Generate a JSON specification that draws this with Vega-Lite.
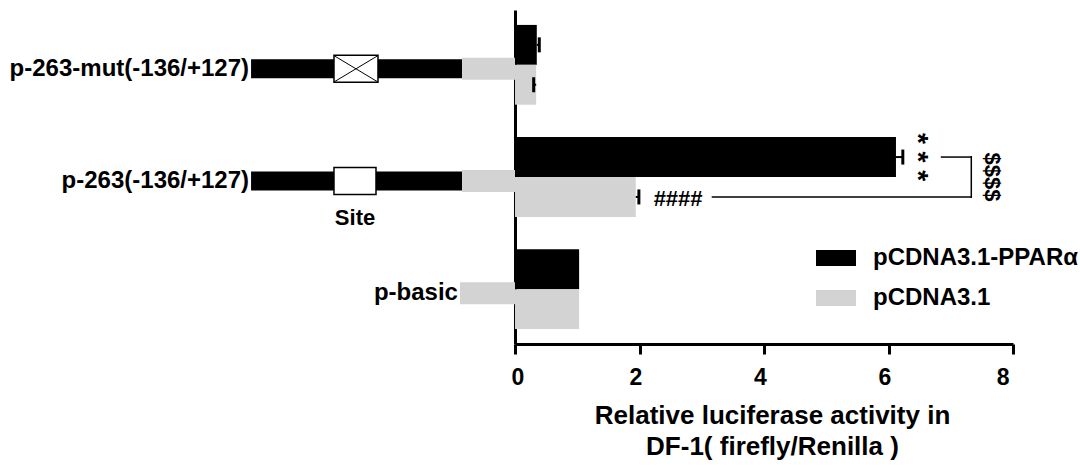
{
  "$schema": "https://vega.github.io/schema/vega-lite/v6.json",
  "width": 498,
  "height": 334,
  "autosize": {"type": "none"},
  "padding": {"left": 515, "top": 10, "right": 67, "bottom": 124},
  "config": {"font": "Liberation Sans", "view": {"stroke": null}},
  "datasets": {
    "bars": [
      {"construct": "mut", "series": "pCDNA3.1-PPARα", "value": 0.35, "cap": 0.39},
      {"construct": "mut", "series": "pCDNA3.1", "value": 0.34, "cap": 0.3},
      {"construct": "wt", "series": "pCDNA3.1-PPARα", "value": 6.12, "cap": 6.23},
      {"construct": "wt", "series": "pCDNA3.1", "value": 1.94, "cap": 1.99},
      {"construct": "basic", "series": "pCDNA3.1-PPARα", "value": 1.03},
      {"construct": "basic", "series": "pCDNA3.1", "value": 1.03}
    ],
    "segs": [
      {"construct": "mut", "part": "core", "start": -4.24, "end": -0.851},
      {"construct": "mut", "part": "basic", "start": -0.851, "end": 0},
      {"construct": "wt", "part": "core", "start": -4.24, "end": -0.851},
      {"construct": "wt", "part": "basic", "start": -0.851, "end": 0},
      {"construct": "basic", "part": "basic", "start": -0.884, "end": 0},
      {"construct": "mut", "part": "site", "start": -2.908, "end": -2.201, "mutated": true},
      {"construct": "wt", "part": "site", "start": -2.908, "end": -2.233, "mutated": false}
    ],
    "labels": [
      {"construct": "mut", "x": -4.24, "label": "p-263-mut(-136/+127)"},
      {"construct": "wt", "x": -4.24, "label": "p-263(-136/+127)"},
      {"construct": "basic", "x": -0.884, "label": "p-basic"}
    ],
    "notes": [
      {"construct": "wt", "series": "pCDNA3.1-PPARα", "x": 6.45, "label": "* * *"},
      {"construct": "wt", "series": "pCDNA3.1", "x": 2.62, "label": "####"},
      {"construct": "wt", "x": 7.66, "label": "$$$$"},
      {"construct": "wt", "x": -2.57, "label": "Site"}
    ],
    "brackets": [
      {"construct": "wt", "series": "pCDNA3.1-PPARα", "from": 6.84, "to": 7.33},
      {"construct": "wt", "series": "pCDNA3.1", "from": 3.16, "to": 7.33}
    ]
  },
  "encoding": {
    "y": {
      "field": "construct",
      "type": "nominal",
      "sort": ["mut", "wt", "basic"],
      "scale": {"paddingInner": 0.289, "paddingOuter": 0.133},
      "axis": {"labels": false, "ticks": false, "title": null, "domainColor": "#000000", "domainWidth": 3, "grid": false}
    }
  },
  "layer": [
    {
      "data": {"name": "segs"},
      "transform": [{"filter": "datum.part === 'core'"}],
      "mark": {"type": "bar", "height": 19, "color": "#000000", "yOffset": 4},
      "encoding": {
        "x": {"field": "start", "type": "quantitative", "scale": {"domain": [0, 8], "nice": false}},
        "x2": {"field": "end"}
      }
    },
    {
      "data": {"name": "segs"},
      "transform": [{"filter": "datum.part === 'basic'"}],
      "mark": {"type": "bar", "height": 22, "color": "#d3d3d3", "yOffset": 4},
      "encoding": {
        "x": {"field": "start", "type": "quantitative", "scale": {"domain": [0, 8], "nice": false}},
        "x2": {"field": "end"}
      }
    },
    {
      "data": {"name": "segs"},
      "transform": [{"filter": "datum.part === 'site'"}],
      "mark": {"type": "bar", "height": 27, "fill": "#ffffff", "stroke": "#000000", "strokeWidth": 1.5, "yOffset": 4},
      "encoding": {
        "x": {"field": "start", "type": "quantitative", "scale": {"domain": [0, 8], "nice": false}},
        "x2": {"field": "end"}
      }
    },
    {
      "data": {"name": "segs"},
      "transform": [{"filter": "datum.mutated === true"}],
      "mark": {"type": "point", "shape": "M-1,-0.6L1,0.6M1,-0.6L-1,0.6", "size": 1936, "filled": false, "stroke": "#000000", "strokeWidth": 1, "opacity": 1, "yOffset": 4},
      "encoding": {
        "x": {"datum": -2.555, "type": "quantitative", "scale": {"domain": [0, 8], "nice": false}}
      }
    },
    {
      "data": {"name": "labels"},
      "mark": {"type": "text", "align": "right", "baseline": "middle", "dx": -2, "dy": 4, "fontSize": 24, "fontWeight": "bold", "color": "#000000"},
      "encoding": {
        "x": {"field": "x", "type": "quantitative", "scale": {"domain": [0, 8], "nice": false}},
        "text": {"field": "label"}
      }
    },
    {
      "data": {"name": "bars"},
      "mark": {"type": "bar"},
      "encoding": {
        "x": {
          "field": "value",
          "type": "quantitative",
          "scale": {"domain": [0, 8], "nice": false},
          "axis": {
            "values": [0, 2, 4, 6, 8],
            "format": "d",
            "grid": false,
            "domainColor": "#000000",
            "domainWidth": 3,
            "tickColor": "#000000",
            "tickWidth": 3,
            "tickSize": 10,
            "labelFontSize": 23,
            "labelFontWeight": "bold",
            "labelColor": "#000000",
            "labelPadding": 12,
            "labelOffset": -4,
            "title": ["Relative luciferase activity in", "DF-1( firefly/Renilla )"],
            "titleFontSize": 26,
            "titleFontWeight": "bold",
            "titleColor": "#000000",
            "titleLineHeight": 31,
            "titleX": 257,
            "titleY": 58,
            "titleAlign": "center",
            "titleBaseline": "top"
          }
        },
        "yOffset": {"field": "series", "type": "nominal", "sort": ["pCDNA3.1-PPARα", "pCDNA3.1"], "scale": {"paddingInner": 0, "paddingOuter": 0}},
        "color": {
          "field": "series",
          "type": "nominal",
          "sort": ["pCDNA3.1-PPARα", "pCDNA3.1"],
          "scale": {"domain": ["pCDNA3.1-PPARα", "pCDNA3.1"], "range": ["#000000", "#d3d3d3"]},
          "legend": {
            "orient": "none",
            "legendX": 301,
            "legendY": 228,
            "title": null,
            "symbolType": "M-1,-0.4H1V0.4H-1Z",
            "symbolSize": 1600,
            "symbolStrokeWidth": 0,
            "symbolOpacity": 1,
            "labelFont": "Liberation Sans",
            "labelFontWeight": "bold",
            "labelFontSize": 24,
            "labelColor": "#000000",
            "labelOffset": 17,
            "labelLimit": 400,
            "rowPadding": 8,
            "padding": 0
          }
        }
      }
    },
    {
      "data": {"name": "bars"},
      "transform": [{"filter": {"field": "cap", "valid": true}}],
      "mark": {"type": "rule", "color": "#000000", "strokeWidth": 2},
      "encoding": {
        "x": {"field": "value", "type": "quantitative", "scale": {"domain": [0, 8], "nice": false}},
        "x2": {"field": "cap"},
        "yOffset": {"field": "series", "type": "nominal", "sort": ["pCDNA3.1-PPARα", "pCDNA3.1"]}
      }
    },
    {
      "data": {"name": "bars"},
      "transform": [{"filter": {"field": "cap", "valid": true}}],
      "mark": {"type": "tick", "orient": "vertical", "color": "#000000", "thickness": 3, "size": 15, "opacity": 1},
      "encoding": {
        "x": {"field": "cap", "type": "quantitative", "scale": {"domain": [0, 8], "nice": false}},
        "yOffset": {"field": "series", "type": "nominal", "sort": ["pCDNA3.1-PPARα", "pCDNA3.1"]}
      }
    },
    {
      "data": {"name": "brackets"},
      "mark": {"type": "rule", "color": "#000000", "strokeWidth": 1.5},
      "encoding": {
        "x": {"field": "from", "type": "quantitative", "scale": {"domain": [0, 8], "nice": false}},
        "x2": {"field": "to"},
        "yOffset": {"field": "series", "type": "nominal", "sort": ["pCDNA3.1-PPARα", "pCDNA3.1"]}
      }
    },
    {
      "data": {"name": "brackets"},
      "transform": [{"filter": "datum.series === 'pCDNA3.1'"}],
      "mark": {"type": "tick", "orient": "vertical", "color": "#000000", "thickness": 1.5, "size": 42, "opacity": 1},
      "encoding": {
        "x": {"field": "to", "type": "quantitative", "scale": {"domain": [0, 8], "nice": false}}
      }
    },
    {
      "data": {"name": "notes"},
      "transform": [{"filter": "datum.label === '* * *'"}],
      "mark": {"type": "text", "angle": 90, "align": "center", "baseline": "middle", "fontSize": 28, "fontWeight": "bold", "color": "#000000", "yOffset": -4},
      "encoding": {
        "x": {"field": "x", "type": "quantitative", "scale": {"domain": [0, 8], "nice": false}},
        "yOffset": {"field": "series", "type": "nominal", "sort": ["pCDNA3.1-PPARα", "pCDNA3.1"]},
        "text": {"field": "label"}
      }
    },
    {
      "data": {"name": "notes"},
      "transform": [{"filter": "datum.label === '####'"}],
      "mark": {"type": "text", "align": "center", "baseline": "middle", "dy": 2, "fontSize": 22, "fontWeight": "bold", "color": "#000000"},
      "encoding": {
        "x": {"field": "x", "type": "quantitative", "scale": {"domain": [0, 8], "nice": false}},
        "yOffset": {"field": "series", "type": "nominal", "sort": ["pCDNA3.1-PPARα", "pCDNA3.1"]},
        "text": {"field": "label"}
      }
    },
    {
      "data": {"name": "notes"},
      "transform": [{"filter": "datum.label === '$$$$'"}],
      "mark": {"type": "text", "angle": 90, "align": "center", "baseline": "middle", "fontSize": 22, "fontWeight": "bold", "color": "#000000"},
      "encoding": {
        "x": {"field": "x", "type": "quantitative", "scale": {"domain": [0, 8], "nice": false}},
        "text": {"field": "label"}
      }
    },
    {
      "data": {"name": "notes"},
      "transform": [{"filter": "datum.label === 'Site'"}],
      "mark": {"type": "text", "align": "center", "baseline": "middle", "dy": 41, "fontSize": 22, "fontWeight": "bold", "color": "#000000"},
      "encoding": {
        "x": {"field": "x", "type": "quantitative", "scale": {"domain": [0, 8], "nice": false}},
        "text": {"field": "label"}
      }
    }
  ]
}
